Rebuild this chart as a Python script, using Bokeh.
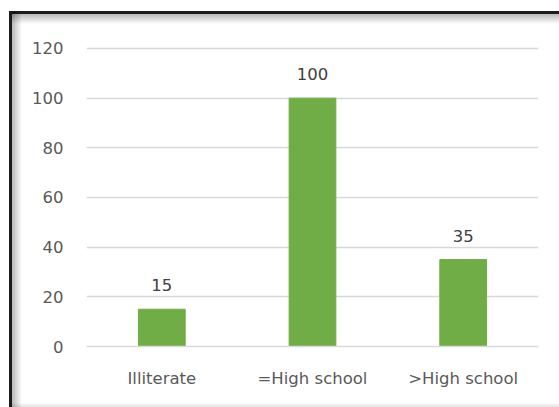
from bokeh.plotting import figure
from bokeh.models import ColumnDataSource, FixedTicker, Range1d, FactorRange, LabelSet
from bokeh.core.properties import value
from bokeh.embed import file_html
from bokeh.resources import INLINE

categories = ["Illiterate", "=High school", ">High school"]
values = [15, 100, 35]
y_ticks = [0, 20, 40, 60, 80, 100, 120]

FONT = "DejaVu Sans"

src = ColumnDataSource(dict(cat=categories, val=values, lab=[str(v) for v in values]))

p = figure(width=559, height=407, output_backend="svg", toolbar_location=None,
           x_range=FactorRange(*categories, range_padding=0), y_range=Range1d(0, 122),
           min_border_left=86, min_border_right=21, min_border_top=43, min_border_bottom=61,
           background_fill_color="white", border_fill_color=None)
p.styles = {
    "background-color": "white",
    "background-repeat": "no-repeat",
    "background-image": (
        "linear-gradient(to right, #1c1c1c 0px, #1c1c1c 3px, rgba(0,0,0,0.28) 3px, rgba(0,0,0,0) 13px),"
        "linear-gradient(to bottom, #1c1c1c 0px, #1c1c1c 3px, rgba(0,0,0,0.28) 3px, rgba(0,0,0,0) 13px),"
        "linear-gradient(to top, rgba(0,0,0,0.12) 0px, rgba(0,0,0,0) 4px)"
    ),
    "background-size": "13px calc(100% - 11px), calc(100% - 9px) 13px, calc(100% - 9px) 4px",
    "background-position": "9px 11px, 9px 11px, 9px 100%",
}
p.outline_line_color = None

p.vbar(x="cat", top="val", width=0.31, source=src, fill_color="#70ad47", line_color="#70ad47")

labels = LabelSet(x="cat", y="val", text="lab", source=src, text_align="center",
                  text_baseline="alphabetic", y_offset=18, text_font_size="16.5px",
                  text_font=value(FONT), text_color="#404040")
p.add_layout(labels)

p.yaxis.ticker = FixedTicker(ticks=y_ticks)
p.yaxis.axis_line_color = None
p.yaxis.major_tick_line_color = None
p.yaxis.minor_tick_line_color = None
p.yaxis.major_label_standoff = 17
p.yaxis.major_label_text_font = FONT
p.yaxis.major_label_text_font_size = "16.5px"
p.yaxis.major_label_text_color = "#595959"

p.xaxis.axis_line_color = "#d9d9d9"
p.xaxis.axis_line_width = 1.5
p.xaxis.major_tick_line_color = None
p.xaxis.minor_tick_line_color = None
p.xaxis.major_label_standoff = 16
p.xaxis.major_label_text_font = FONT
p.xaxis.major_label_text_font_size = "16.5px"
p.xaxis.major_label_text_color = "#595959"

p.xgrid.grid_line_color = None
p.ygrid.grid_line_color = "#d9d9d9"
p.ygrid.grid_line_width = 1.5

open("out.html", "w").write(file_html(p, INLINE))
